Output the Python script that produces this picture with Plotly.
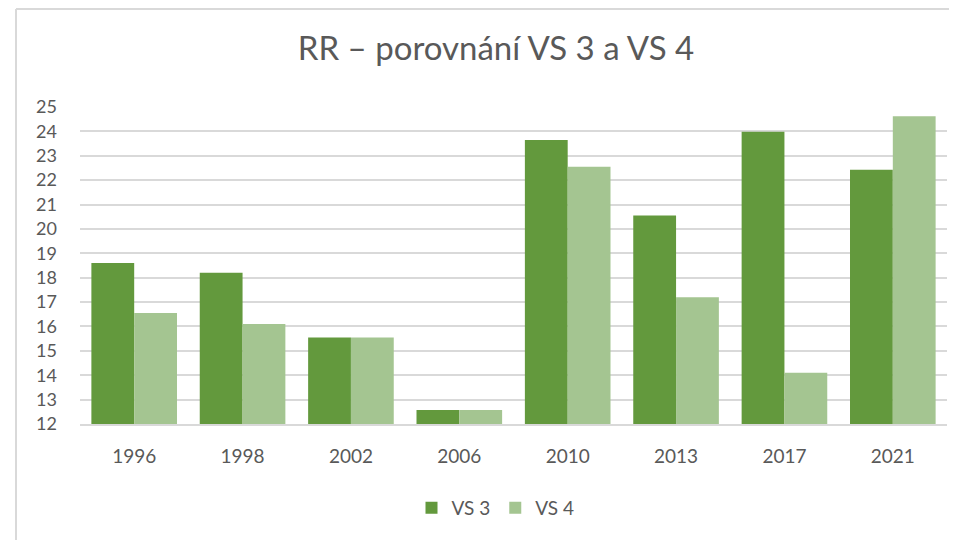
import plotly.graph_objects as go

years = ["1996", "1998", "2002", "2006", "2010", "2013", "2017", "2021"]
vs3 = [18.6, 18.2, 15.55, 12.57, 23.65, 20.55, 23.98, 22.43]
vs4 = [16.55, 16.1, 15.55, 12.57, 22.55, 17.2, 14.1, 24.62]
y_ticks = list(range(12, 26))

font_family = "Lato, 'Open Sans', sans-serif"
txt = "#595959"

# page has an 8px body margin; figure sized to fit the window
W, H = 949, 532
L, R, T, B = 72, 10, 99, 116
PW, PH = W - L - R, H - T - B

fig = go.Figure()
fig.add_trace(go.Bar(x=years, y=vs3, name="VS 3", marker=dict(color="#63993d", line=dict(width=0))))
fig.add_trace(go.Bar(x=years, y=vs4, name="VS 4", marker=dict(color="#a4c591", line=dict(width=0))))

bx = (8 - L) / PW
by = (H - B - 1) / PH
border = dict(color="#d9d9d9", width=2)

fig.update_layout(
    width=W, height=H,
    margin=dict(l=L, r=R, t=T, b=B),
    paper_bgcolor="white", plot_bgcolor="white",
    barmode="group", bargap=0.21, bargroupgap=0,
    title=dict(text="RR – porovnání VS 3 a VS 4", x=488 / W, xanchor="center",
               y=1 - 40 / H, yanchor="middle",
               font=dict(family=font_family, size=33, color=txt)),
    font=dict(family=font_family, size=18, color=txt),
    showlegend=True,
    legend=dict(orientation="h", x=(487.5 - L) / PW, xanchor="center",
                y=(H - B - 500) / PH, yanchor="middle",
                font=dict(size=19, color=txt), itemwidth=30, traceorder="normal"),
    xaxis=dict(showline=True, linecolor="#d9d9d9", linewidth=2, ticks="",
               tickfont=dict(size=19, color=txt), ticklabelstandoff=14),
    yaxis=dict(range=[12, 25], tickvals=y_ticks, showgrid=True, gridcolor="#d9d9d9",
               gridwidth=1.5, zeroline=False, ticks="",
               tickfont=dict(size=18, color=txt), ticklabelstandoff=22),
    shapes=[
        dict(type="line", xref="paper", yref="paper", x0=bx, x1=1.2, y0=by, y1=by,
             line=border, layer="below"),
        dict(type="line", xref="paper", yref="paper", x0=bx, x1=bx, y0=-0.5, y1=by,
             line=border, layer="below"),
    ],
)

fig.write_html("out.html")
